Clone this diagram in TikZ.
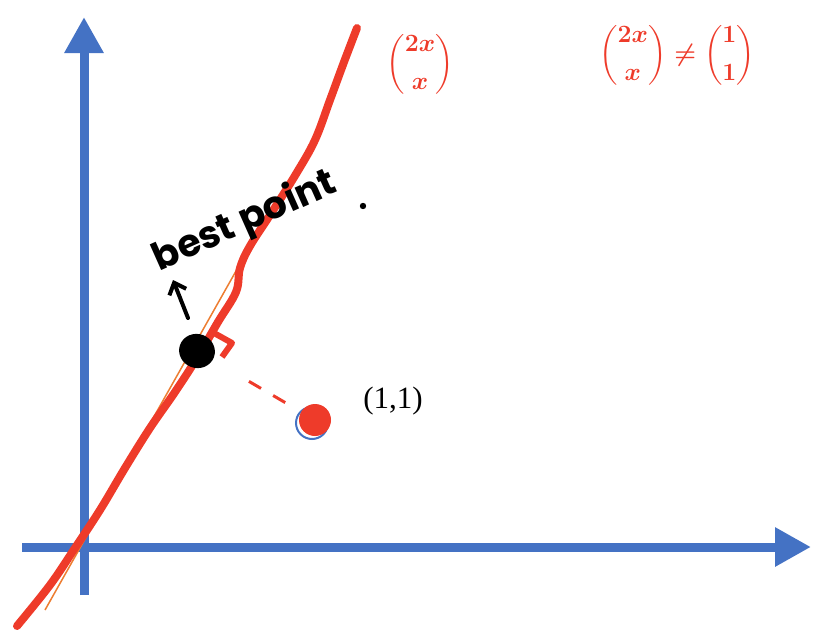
\documentclass[tikz,border=0pt]{standalone}
\usepackage{fontspec}
\usepackage{amsmath}
\setmainfont{Liberation Serif}
\newfontfamily\handfont{Poppins}
\usetikzlibrary{arrows.meta, shapes.geometric}
\definecolor{axisblue}{HTML}{4472C4}
\definecolor{penred}{HTML}{EE3B2A}
\definecolor{thinorange}{HTML}{ED7D31}
\tikzset{
  axis/.style={axisblue, line width=9pt, -{Triangle[length=36pt,width=37pt]}},
  pen/.style={penred, line width=8pt, line cap=round, line join=round},
  hand/.style={font=\handfont\bfseries\fontsize{38}{40}\selectfont},
  redvec/.style={penred, font=\fontsize{32}{34}\selectfont\boldmath}
}
\begin{document}
\begin{tikzpicture}[x=1pt, y=-1pt, >=latex]
\useasboundingbox (0,0) rectangle (816,637);
% axes
\draw[axis] (22,547) -- (811,547);
\draw[axis] (84,595) -- (84,17);
% the line 2x,x
\draw[thinorange, line width=1.5pt] (45,610) -- (258,232);
\draw[pen] plot[smooth, tension=0.6] coordinates {(17,626) (50,585) (75,548) (100,510) (125,468) (150,428) (175,392) (197,358) (218,322) (236,292) (240,268) (250,246) (272,212) (296,174) (315,140) (330,100) (344,62) (357,28)};
% best point and (1,1)
\node[ellipse, fill=black, minimum width=36pt, minimum height=34pt, inner sep=0pt, rotate=-20] (blob) at (197,351) {};
\draw[penred, line width=6pt, line join=round] (214,333) -- (232,343) -- (222,357);
\draw[axisblue, line width=2pt] (312,423) circle (16pt);
\node[circle, fill=penred, minimum size=32pt, inner sep=0pt] (pt) at (315,420) {};
\draw[penred, line width=3pt, dash pattern=on 14pt off 14pt, shorten <=42pt, shorten >=14pt] (blob) -- (pt);
\node[font=\fontsize{31}{33}\selectfont] (ptlabel) at (393,401) {(1,1)};
\node[hand, rotate=24] (best) at (245,222) {best point};
\fill (363,206) circle (3.2pt);
\coordinate (tail) at (188,318);
\draw[line width=4pt, line cap=round, -{Straight Barb[length=10pt,width=18pt]}] (tail) -- (173,280);
% red vectors
\node[redvec] (vec) at (420,64) {$\dbinom{2x}{x}$};
\node[redvec] (ineq) at (677,55) {$\dbinom{2x}{x}\neq\dbinom{1}{1}$};
\end{tikzpicture}
\end{document}
